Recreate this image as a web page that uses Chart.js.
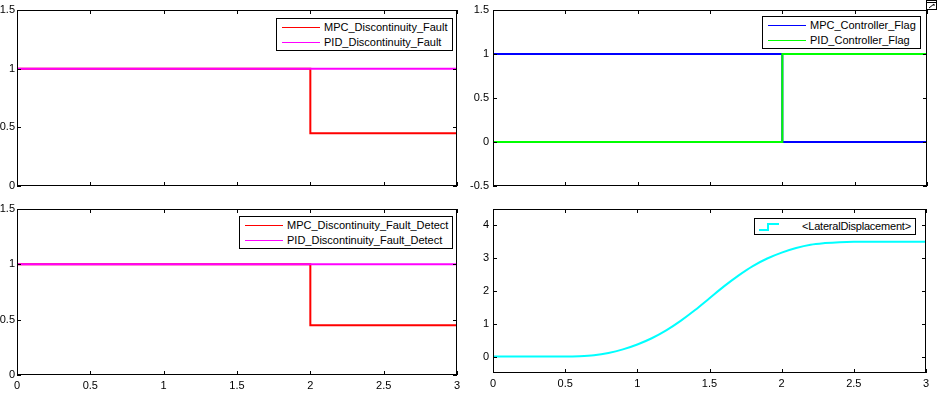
<!DOCTYPE html>
<html>
<head>
<meta charset="utf-8">
<script src="https://cdn.jsdelivr.net/npm/chart.js@4"></script>
<style>
  body { margin: 0; background: #fff; width: 937px; height: 396px; overflow: hidden; position: relative; }
  .panel { position: absolute; }
  .leyenda { position: absolute; background: #fff; border: 1px solid #000; font: 11px "Liberation Sans", Arial, sans-serif; color: #000; white-space: nowrap; }
  .fila { height: 15px; line-height: 15px; display: flex; align-items: center; }
  .muestra { display: inline-block; width: 38px; height: 0; border-top: 1px solid; margin-right: 4px; }
</style>
</head>
<body>
<div class="panel" style="left:0;top:0"><canvas id="cTL" width="465" height="195"></canvas></div>
<div class="panel" style="left:465px;top:0"><canvas id="cTR" width="472" height="195"></canvas></div>
<div class="panel" style="left:0;top:195px"><canvas id="cBL" width="465" height="201"></canvas></div>
<div class="panel" style="left:465px;top:195px"><canvas id="cBR" width="472" height="201"></canvas></div>
<svg style="position:absolute;left:926px;top:0" width="11" height="11">
  <rect x="0.5" y="0.5" width="10" height="9" fill="#fff" stroke="#000"/>
  <line x1="0.5" y1="2.5" x2="10.5" y2="2.5" stroke="#000"/>
  <polyline points="3,8 8,4 8,6 M8,4 6,4" fill="none" stroke="#000"/>
</svg>

<script>
// datos de las fallas (escalón en t = 2)
const tFalla = [0, 2, 2, 3];
const mpcFalla = [1, 1, 0.45, 0.45];
const pidFalla = [1, 1, 1, 1];
const mpcFallaDetect = [1, 1, 0.45, 0.45];
const pidFallaDetect = [1, 1, 1, 1];

// banderas de controlador
const tBandera = [0, 2, 2, 3];
const mpcBandera = [1, 1, 0, 0];
const pidBandera = [0, 0, 1, 1];

// desplazamiento lateral
const tLateral = [0, 0.1, 0.2, 0.3, 0.4, 0.5, 0.6, 0.7, 0.8, 0.9, 1.0, 1.1, 1.2, 1.3, 1.4, 1.5,
                  1.6, 1.7, 1.8, 1.9, 2.0, 2.1, 2.2, 2.3, 2.4, 2.5, 2.6, 2.7, 2.8, 2.9, 3.0];
const despLateral = [0, 0, 0, 0, 0, 0, 0.01, 0.04, 0.11, 0.22, 0.37, 0.56, 0.80, 1.09, 1.42, 1.78,
                     2.14, 2.47, 2.76, 2.99, 3.17, 3.31, 3.41, 3.46, 3.49, 3.5, 3.5, 3.5, 3.5, 3.5, 3.5];

// ticks
const xTicks = [0, 0.5, 1, 1.5, 2, 2.5, 3];
const yTicksFalla = [0, 0.5, 1, 1.5];
const yTicksBandera = [-0.5, 0, 0.5, 1, 1.5];
const yTicksLateral = [0, 1, 2, 3, 4];

const fuente = { family: '"Liberation Sans", Arial, sans-serif', size: 11 };

function puntos(xs, ys) {
  return xs.map((x, i) => ({ x: x, y: ys[i] }));
}

// marco y ticks hacia adentro, estilo MATLAB
const marcoPlugin = {
  id: 'marco',
  afterDraw(chart) {
    const ctx = chart.ctx;
    const a = chart.chartArea;
    const sx = chart.scales.x, sy = chart.scales.y;
    const L = 4;
    ctx.save();
    ctx.strokeStyle = '#000';
    ctx.lineWidth = 1;
    ctx.strokeRect(a.left + 0.5, a.top + 0.5, a.right - a.left - 1, a.bottom - a.top - 1);
    ctx.beginPath();
    sx.ticks.forEach(t => {
      const px = Math.round(sx.getPixelForValue(t.value)) + 0.5;
      ctx.moveTo(px, a.bottom); ctx.lineTo(px, a.bottom - L);
      ctx.moveTo(px, a.top); ctx.lineTo(px, a.top + L);
    });
    sy.ticks.forEach(t => {
      const py = Math.round(sy.getPixelForValue(t.value)) + 0.5;
      ctx.moveTo(a.left, py); ctx.lineTo(a.left + L, py);
      ctx.moveTo(a.right, py); ctx.lineTo(a.right - L, py);
    });
    ctx.stroke();
    ctx.restore();
  }
};

function crearGrafico(id, datasets, cfg) {
  return new Chart(document.getElementById(id), {
    type: 'line',
    data: { datasets: datasets },
    options: {
      responsive: false,
      animation: false,
      devicePixelRatio: 1,
      layout: { padding: cfg.padding },
      plugins: { legend: { display: false }, tooltip: { enabled: false } },
      elements: { point: { radius: 0 } },
      scales: {
        x: {
          type: 'linear', min: 0, max: 3,
          grid: { display: false, drawTicks: false }, border: { display: false },
          ticks: { display: cfg.xLabels, font: fuente, color: '#000', padding: cfg.xPad, maxRotation: 0,
                   callback: v => String(v) },
          afterBuildTicks: s => { s.ticks = xTicks.map(v => ({ value: v })); },
          afterFit: s => { s.height = cfg.xHeight; }
        },
        y: {
          type: 'linear', min: cfg.yMin, max: cfg.yMax,
          grid: { display: false, drawTicks: false }, border: { display: false },
          ticks: { font: fuente, color: '#000', padding: cfg.yPad, callback: v => String(v) },
          afterBuildTicks: s => { s.ticks = cfg.yTicks.map(v => ({ value: v })); },
          afterFit: s => { s.width = cfg.yWidth; s.paddingTop = 0; s.paddingBottom = 0; }
        }
      }
    },
    plugins: [marcoPlugin]
  });
}

function serie(label, data, color, order) {
  return { label: label, data: data, borderColor: color, backgroundColor: color,
           borderWidth: 2, fill: false, order: order };
}

const chTL = crearGrafico('cTL', [
  serie('MPC_Discontinuity_Fault', puntos(tFalla, mpcFalla), '#ff0000', 1),
  serie('PID_Discontinuity_Fault', puntos(tFalla, pidFalla), '#ff00ff', 0)
], { padding: { top: 10, right: 8, left: 0, bottom: 0 }, xLabels: false, xPad: 0, xHeight: 9,
     yMin: 0, yMax: 1.5, yTicks: yTicksFalla, yWidth: 17, yPad: 2 });

const chTR = crearGrafico('cTR', [
  serie('MPC_Controller_Flag', puntos(tBandera, mpcBandera), '#0000ff', 1),
  serie('PID_Controller_Flag', puntos(tBandera, pidBandera), '#00ff00', 0)
], { padding: { top: 10, right: 10, left: 0, bottom: 0 }, xLabels: false, xPad: 0, xHeight: 9,
     yMin: -0.5, yMax: 1.5, yTicks: yTicksBandera, yWidth: 28, yPad: 4 });

const chBL = crearGrafico('cBL', [
  serie('MPC_Discontinuity_Fault_Detect', puntos(tFalla, mpcFallaDetect), '#ff0000', 1),
  serie('PID_Discontinuity_Fault_Detect', puntos(tFalla, pidFallaDetect), '#ff00ff', 0)
], { padding: { top: 14, right: 8, left: 0, bottom: 0 }, xLabels: true, xPad: 4, xHeight: 21,
     yMin: 0, yMax: 1.5, yTicks: yTicksFalla, yWidth: 17, yPad: 2 });

const lateral = serie('<LateralDisplacement>', puntos(tLateral, despLateral), '#00ffff', 0);
lateral.cubicInterpolationMode = 'monotone';
const chBR = crearGrafico('cBR', [lateral],
   { padding: { top: 14, right: 11, left: 0, bottom: 0 }, xLabels: true, xPad: 4, xHeight: 23,
     yMin: -0.5, yMax: 4.5, yTicks: yTicksLateral, yWidth: 28, yPad: 4 });

// leyendas tipo MATLAB
function leyenda(chart, left, top) {
  const box = document.createElement('div');
  box.className = 'leyenda';
  box.style.left = left + 'px';
  box.style.top = top + 'px';
  box.style.padding = '1px 4px 0 5px';
  chart.data.datasets.forEach(ds => {
    const fila = document.createElement('div');
    fila.className = 'fila';
    const m = document.createElement('span');
    m.className = 'muestra';
    m.style.borderTopColor = ds.borderColor;
    fila.appendChild(m);
    fila.appendChild(document.createTextNode(ds.label));
    box.appendChild(fila);
  });
  document.body.appendChild(box);
  return box;
}

leyenda(chTL, 276, 18);
leyenda(chTR, 762, 16);
leyenda(chBL, 239, 216);

// leyenda del desplazamiento lateral con icono escalonado
const lBR = document.createElement('div');
lBR.className = 'leyenda';
lBR.style.left = '754px';
lBR.style.top = '218px';
lBR.style.padding = '0 4px 0 3px';
lBR.style.height = '15px';
lBR.style.lineHeight = '15px';
lBR.style.letterSpacing = '-0.2px';
lBR.innerHTML = '<svg width="22" height="13" style="vertical-align:-2px;margin-right:22px">' +
  '<polyline points="1,11 10,11 10,5 21,5" fill="none" stroke="' + lateral.borderColor + '" stroke-width="2"/></svg>';
lBR.appendChild(document.createTextNode(lateral.label));
document.body.appendChild(lBR);
</script>
</body>
</html>
